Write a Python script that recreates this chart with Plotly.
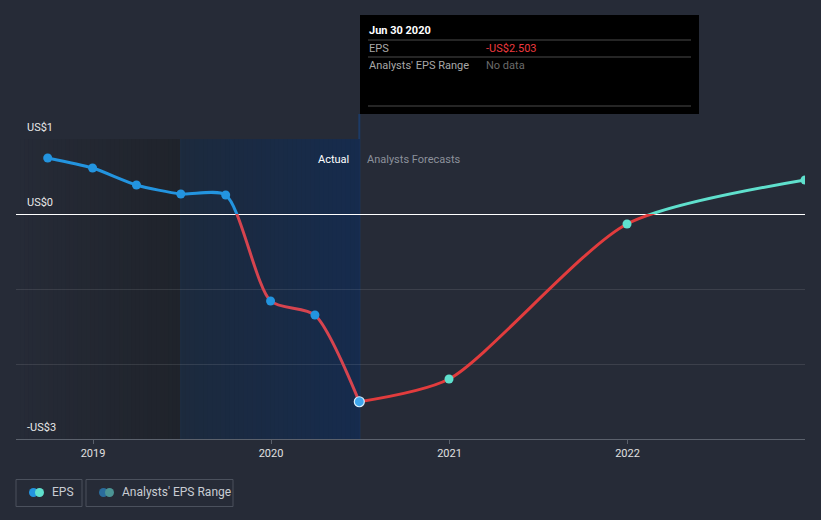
import plotly.graph_objects as go
import pandas as pd

# ---------------- data ----------------
actual_dates = ["2018-09-30", "2018-12-31", "2019-03-31", "2019-06-30",
                "2019-09-30", "2019-12-31", "2020-03-31", "2020-06-30"]
actual_eps = [0.747, 0.613, 0.387, 0.267, 0.253, -1.16, -1.347, -2.503]

forecast_dates = ["2020-06-30", "2020-12-31", "2021-12-31", "2022-12-31"]
forecast_eps = [-2.503, -2.2, -0.133, 0.453]

y_tick_values = [-3, -2, -1, 0, 1]
y_label_values = [1, 0, -3]
y_label_texts = ["US$1", "US$0", "-US$3"]

x_tick_values = ["2019-01-01", "2020-01-01", "2021-01-01", "2022-01-01"]
x_tick_texts = ["2019", "2020", "2021", "2022"]

x_range = ["2018-07-27", "2022-12-31"]
y_range = [-3, 1]
past_region_end = "2019-06-30"
actual_region_end = "2020-06-30"

tooltip_date = "Jun 30 2020"
tooltip_eps = "-US$2.503"

# ---------------- style ----------------
BG = "#262b37"
BLUE = "#2394df"
RED_A = "#d6444f"
RED_F = "#e23c3d"
TEAL = "#5fe0cd"
FONT = "Roboto, Open Sans, sans-serif"
SMOOTH = 0.7
GRID = "rgba(255,255,255,0.10)"

L, R, T, B = 16, 16, 139, 81
W, H = 821, 520
PW, PH = W - L - R, H - T - B


def PX(px):
    return (px - L) / PW


def PY(py):
    return (H - B - py) / PH


def lerp_rgb(c0, c1, t):
    return "rgb(%d,%d,%d)" % tuple(round(a + (b - a) * t) for a, b in zip(c0, c1))


fig = go.Figure()

# lines: positive parts on y3 (clipped above zero), negative on y2 (clipped below zero)
line_common = dict(mode="lines", line_shape="spline", hoverinfo="skip", showlegend=False)
fig.add_trace(go.Scatter(x=actual_dates, y=actual_eps, yaxis="y3",
                         line=dict(color=BLUE, width=3, smoothing=SMOOTH), **line_common))
fig.add_trace(go.Scatter(x=actual_dates, y=actual_eps, yaxis="y2",
                         line=dict(color=RED_A, width=3, smoothing=SMOOTH), **line_common))
fig.add_trace(go.Scatter(x=forecast_dates, y=forecast_eps, yaxis="y3",
                         line=dict(color=TEAL, width=3, smoothing=SMOOTH), **line_common))
fig.add_trace(go.Scatter(x=forecast_dates, y=forecast_eps, yaxis="y2",
                         line=dict(color=RED_F, width=3, smoothing=SMOOTH), **line_common))

# markers on a top-most full-height subplot
fig.add_trace(go.Scatter(x=actual_dates[:-1], y=actual_eps[:-1], mode="markers", yaxis="y4",
                         marker=dict(color=BLUE, size=9), hoverinfo="skip", showlegend=False))
fig.add_trace(go.Scatter(x=forecast_dates[1:], y=forecast_eps[1:], mode="markers", yaxis="y4",
                         marker=dict(color=TEAL, size=9), hoverinfo="skip", showlegend=False))
fig.add_trace(go.Scatter(x=actual_dates[-1:], y=actual_eps[-1:], mode="markers", yaxis="y4",
                         marker=dict(color="#3ea6ec", size=10, line=dict(color="#d8eefc", width=1.2)),
                         hoverinfo="skip", showlegend=False))

shapes = []
annotations = []

# gradient regions as thin strips (below gridlines)
N = 40
dark_edges = pd.date_range(x_range[0], past_region_end, periods=N + 1)
for i in range(N):
    shapes.append(dict(type="rect", xref="x", yref="y", layer="below",
                       x0=dark_edges[i], x1=dark_edges[i + 1] + pd.Timedelta(days=1),
                       y0=y_range[0], y1=y_range[1], line=dict(width=0),
                       fillcolor=lerp_rgb((38, 43, 55), (31, 35, 43), (i + 0.5) / N)))
blue_edges = pd.date_range(past_region_end, actual_region_end, periods=N + 1)
for i in range(N):
    shapes.append(dict(type="rect", xref="x", yref="y", layer="below",
                       x0=blue_edges[i], x1=blue_edges[i + 1] + pd.Timedelta(days=1),
                       y0=y_range[0], y1=y_range[1], line=dict(width=0),
                       fillcolor=lerp_rgb((28, 42, 61), (22, 43, 77), (i + 0.5) / N)))
shapes.append(dict(type="line", xref="x", yref="y", layer="below",
                   x0=past_region_end, x1=past_region_end, y0=y_range[0], y1=y_range[1],
                   line=dict(color="#1f3048", width=1)))

# crosshair vertical line
shapes.append(dict(type="line", xref="x", yref="paper", x0=actual_region_end, x1=actual_region_end,
                   y0=0, y1=PY(114), line=dict(color="#1d3b66", width=2), layer="below"))

# y labels
for v, t in zip(y_label_values, y_label_texts):
    annotations.append(dict(x=PX(25), xref="paper", y=v, yref="y", text=t, showarrow=False,
                            xanchor="left", yanchor="bottom", yshift=3,
                            font=dict(color="#e8e8e8", size=11, family=FONT)))

# Actual / Forecast labels
annotations.append(dict(x=actual_region_end, xref="x", y=PY(151), yref="paper", text="Actual",
                        showarrow=False, xanchor="right", xshift=-8,
                        font=dict(color="#ffffff", size=11, family=FONT)))
annotations.append(dict(x=actual_region_end, xref="x", y=PY(151), yref="paper",
                        text="Analysts Forecasts", showarrow=False, xanchor="left", xshift=6,
                        font=dict(color="#8c919b", size=11, family=FONT)))

# tooltip
shapes.append(dict(type="rect", xref="paper", yref="paper", x0=PX(360), x1=PX(699),
                   y0=PY(114), y1=PY(15), fillcolor="#000000", line=dict(width=0), layer="above"))
for yy in [40, 57, 106]:
    shapes.append(dict(type="line", xref="paper", yref="paper", x0=PX(368), x1=PX(691),
                       y0=PY(yy), y1=PY(yy), line=dict(color="#4a4a4a", width=1), layer="above"))
annotations.append(dict(x=PX(367), y=PY(31), xref="paper", yref="paper", text="<b>" + tooltip_date + "</b>",
                        showarrow=False, xanchor="left", yanchor="middle",
                        font=dict(color="#ffffff", size=11, family=FONT)))
annotations.append(dict(x=PX(367), y=PY(48.5), xref="paper", yref="paper", text="EPS",
                        showarrow=False, xanchor="left", yanchor="middle",
                        font=dict(color="#a8a8a8", size=11, family=FONT)))
annotations.append(dict(x=PX(484), y=PY(48.5), xref="paper", yref="paper", text=tooltip_eps,
                        showarrow=False, xanchor="left", yanchor="middle",
                        font=dict(color="#ee3a3f", size=11, family=FONT)))
annotations.append(dict(x=PX(367), y=PY(65), xref="paper", yref="paper", text="Analysts' EPS Range",
                        showarrow=False, xanchor="left", yanchor="middle",
                        font=dict(color="#a8a8a8", size=11, family=FONT)))
annotations.append(dict(x=PX(484), y=PY(65), xref="paper", yref="paper", text="No data",
                        showarrow=False, xanchor="left", yanchor="middle",
                        font=dict(color="#6a6a6a", size=11, family=FONT)))

# legend buttons
legend_items = [
    (16, 82, "EPS", BLUE, TEAL),
    (86, 233, "Analysts' EPS Range", "#2a6c9c", "#4b9494"),
]
for x0, x1, label, c1, c2 in legend_items:
    shapes.append(dict(type="rect", xref="paper", yref="paper", x0=PX(x0), x1=PX(x1),
                       y0=PY(506.5), y1=PY(479.5), line=dict(color="#4b515d", width=1),
                       fillcolor="rgba(0,0,0,0)"))
    cy = 492.5
    for cx, col in [(x0 + 17.5, c1), (x0 + 23.5, c2)]:
        r = 4.5
        shapes.append(dict(type="circle", xref="paper", yref="paper",
                           x0=PX(cx - r), x1=PX(cx + r), y0=PY(cy + r), y1=PY(cy - r),
                           fillcolor=col, line=dict(width=0)))
    annotations.append(dict(x=PX(x0 + 34), y=PY(cy), xref="paper", yref="paper", text=label,
                            showarrow=False, xanchor="left", yanchor="middle",
                            font=dict(color="#c9cdd3", size=12, family=FONT)))

TRANSPARENT = "rgba(0,0,0,0)"
fig.update_layout(
    width=W, height=H,
    margin=dict(l=L, r=R, t=T, b=B, pad=0),
    paper_bgcolor=BG, plot_bgcolor=TRANSPARENT,
    showlegend=False,
    font=dict(family=FONT, color="#d8d8d8"),
    xaxis=dict(type="date", range=x_range, tickvals=x_tick_values, ticktext=x_tick_texts,
               showgrid=False, zeroline=False, showline=True, linecolor="#5b616c", linewidth=1,
               ticks="outside", ticklen=4, tickcolor="#5b616c",
               tickfont=dict(color="#e0e0e0", size=11, family=FONT), fixedrange=True),
    yaxis=dict(range=y_range, tickvals=y_tick_values, showticklabels=False,
               showgrid=True, gridcolor=GRID, gridwidth=1,
               zeroline=True, zerolinecolor="#ffffff", zerolinewidth=1.3, fixedrange=True),
    yaxis2=dict(range=[y_range[0], 0], domain=[0, 0.75], anchor="x", visible=False, fixedrange=True),
    yaxis3=dict(range=[0, y_range[1]], domain=[0.75, 1], anchor="x", visible=False, fixedrange=True),
    yaxis4=dict(range=y_range, domain=[0, 1], anchor="x", visible=False, fixedrange=True),
    shapes=shapes,
    annotations=annotations,
)

fig.write_html("out.html")
